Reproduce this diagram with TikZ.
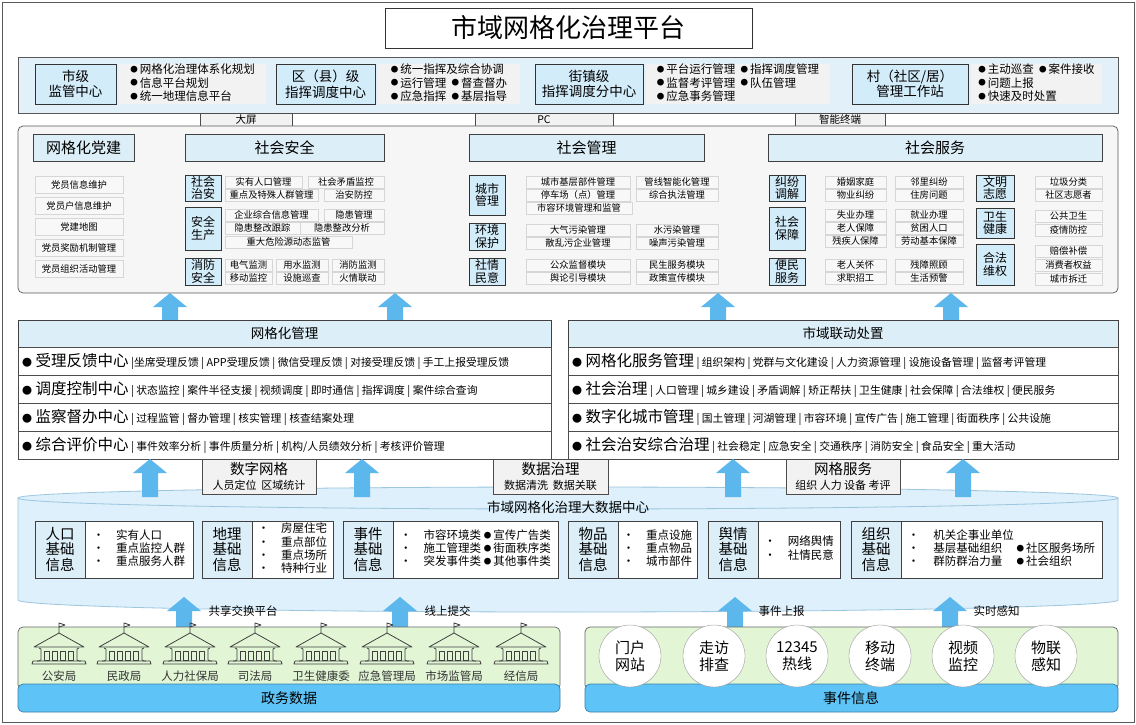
\documentclass[tikz,border=0pt]{standalone}
\usepackage{fontspec}
\setmainfont{Noto Sans CJK SC}
\definecolor{frameC}{HTML}{595959}
\definecolor{lblue}{HTML}{D3ECFA}
\definecolor{hdr}{HTML}{DCEEF7}
\definecolor{band}{HTML}{E2F1F9}
\definecolor{bulf}{HTML}{F2F2F2}
\definecolor{cellB}{HTML}{D6D6D6}
\definecolor{cellF}{HTML}{F8F8F8}
\definecolor{panF}{HTML}{F6F6F6}
\definecolor{arrC}{HTML}{5CB8EC}
\definecolor{grnF}{HTML}{E2F6D6}
\definecolor{barF}{HTML}{5EC3F6}
\definecolor{barB}{HTML}{3A80AA}
\definecolor{cylF}{HTML}{DDF0FB}
\definecolor{cylB}{HTML}{9CC5DE}
\newcounter{nc}
\newcommand\bx[6]{\stepcounter{nc}\node[#1,anchor=north west,inner sep=0pt,outer sep=0pt,minimum width={((#4)-(#2))*1pt},minimum height={((#5)-(#3))*1pt}] (b\thenc) at ({#2},{#3}) {#6};}
\newcommand\uarr[3]{\fill[arrC] ({#1-8},#2) -- ({#1-8},{#3+14}) -- ({#1-17},{#3+14}) -- (#1,#3) -- ({#1+17},{#3+14}) -- ({#1+8},{#3+14}) -- ({#1+8},#2) -- cycle;}
\newcommand\fs[1]{\fontsize{#1}{\dimexpr#1pt*115/100\relax}\selectfont}
\newcommand\fst[1]{\fontsize{#1}{\dimexpr#1pt*104/100\relax}\selectfont}
\newcommand\bu{\raisebox{0.1em}{\fontsize{7.5}{7.5}\selectfont ●}\hspace{2pt}}
\tikzset{
 lb/.style={draw=black!80,fill=lblue,line width=0.8pt,align=center,font=\fs{13.5}},
 sl/.style={draw=black!80,fill=lblue,line width=0.8pt,align=center,font=\fst{12}},
 hb/.style={draw=black!75,fill=hdr,line width=0.7pt,align=center,font=\fs{15}},
 bul/.style={fill=bulf,align=left,font=\fst{11.5}},
 cell/.style={draw=cellB,fill=cellF,line width=0.4pt,font=\fs{9.3}},
 tag/.style={draw=black!70,fill=bulf,line width=0.6pt},
 row/.style={draw=black!70,fill=white,line width=0.6pt},
 bl/.style={draw=black!75,line width=0.8pt,line join=round},
 bldg/.pic={
  \draw[bl] (0,-19) -- (0,-29) -- (6,-27) -- (0,-25);
  \draw[bl] (-25,-5) -- (0,-19) -- (25,-5) -- cycle;
  \foreach \c in {-12,-4,4,12} \draw[bl] (\c-2.4,-1) rectangle (\c+2.4,8);
  \draw[bl] (-20,-4) -- (-18,-3) -- (-18,8) -- (-20,9) -- (-22,9);
  \draw[bl] (20,-4) -- (18,-3) -- (18,8) -- (20,9) -- (22,9);
  \draw[bl] (-26,9) -- (26,9) -- (27,12) -- (-27,12) -- cycle;
 },
 circ/.style={circle,draw=black!40,fill=white,minimum size=62pt,inner sep=0pt,align=center,font=\fs{15}},
}
\begin{document}
\begin{tikzpicture}[x=1pt,y=-1pt]
\useasboundingbox (0,0) rectangle (1136,725);
\fill[white] (0,0) rectangle (1136,725);
\draw[frameC,line width=0.8pt] (2,2) rectangle (1134,722);
% title
\bx{draw=black!80,line width=0.8pt,font=\fs{26}}{385}{8}{752}{48}{市域网格化治理平台}
% top band
\bx{draw=frameC,fill=band,line width=0.6pt}{18}{57}{1118}{113}{}
\bx{lb}{35}{64}{116}{104}{市级\\监管中心}
\bx{bul}{119}{64}{266}{104}{\begin{tabular}{@{}l@{}}\bu 网格化治理体系化规划\\\bu 信息平台规划\\\bu 统一地理信息平台\end{tabular}}
\bx{lb}{276}{64}{375}{104}{区（县）级\\指挥调度中心}
\bx{bul}{378}{64}{520}{104}{\begin{tabular}{@{}l@{}}\bu 统一指挥及综合协调\\\bu 运行管理\ \ \bu 督查督办\\\bu 应急指挥\ \ \bu 基层指导\end{tabular}}
\bx{lb}{535}{64}{643}{104}{街镇级\\指挥调度分中心}
\bx{bul}{646}{64}{830}{104}{\begin{tabular}{@{}l@{\ \ }l@{}}\bu 平台运行管理&\bu 指挥调度管理\\\bu 监督考评管理&\bu 队伍管理\\\bu 应急事务管理&\end{tabular}}
\bx{lb}{852}{64}{968}{104}{村（社区/居）\\管理工作站}
\bx{bul}{971}{64}{1102}{104}{\begin{tabular}{@{}l@{}}\bu 主动巡查\ \ \bu 案件接收\\\bu 问题上报\\\bu 快速及时处置\end{tabular}}
% device labels
\bx{tag,font=\fs{10.5}}{200}{113}{292}{126}{大屏}
\bx{tag,font=\fs{10.5}}{475}{113}{613}{126}{PC}
\bx{tag,font=\fs{10.5}}{795}{113}{885}{126}{智能终端}
% middle panel
\draw[frameC,fill=panF,line width=0.7pt,rounded corners=5pt] (18,126) rectangle (1118,293);
\bx{hb}{33}{134}{134}{161}{网格化党建}
\bx{hb}{185}{134}{384}{161}{社会安全}
\bx{hb}{469}{134}{704}{161}{社会管理}
\bx{hb}{768}{134}{1102}{161}{社会服务}
\foreach \t [count=\i] in {党员信息维护,党员户信息维护,党建地图,党员奖励机制管理,党员组织活动管理}{
 \bx{cell}{35}{176+(\i-1)*21}{123}{193+(\i-1)*21}{\t}}
% social security
\bx{sl}{185}{175}{221}{201}{社会\\治安}
\bx{sl}{185}{207}{221}{250}{安全\\生产}
\bx{sl}{185}{258}{221}{285}{消防\\安全}
\bx{cell}{225}{176}{302}{188}{实有人口管理}
\bx{cell}{308}{176}{384}{188}{社会矛盾监控}
\bx{cell}{225}{189}{318}{201}{重点及特殊人群管理}
\bx{cell}{324}{189}{384}{201}{治安防控}
\bx{cell}{225}{209}{318}{221}{企业综合信息管理}
\bx{cell}{324}{209}{384}{221}{隐患管理}
\bx{cell}{225}{222}{300}{234}{隐患整改跟踪}
\bx{cell}{300}{222}{384}{234}{隐患整改分析}
\bx{cell}{225}{236}{352}{248}{重大危险源动态监管}
\bx{cell}{225}{259}{272}{271}{电气监测}
\bx{cell}{276}{259}{328}{271}{用水监测}
\bx{cell}{332}{259}{384}{271}{消防监测}
\bx{cell}{225}{272}{272}{284}{移动监控}
\bx{cell}{276}{272}{328}{284}{设施巡查}
\bx{cell}{332}{272}{384}{284}{火情联动}
% social management
\bx{sl}{469}{175}{505}{215}{城市\\管理}
\bx{sl}{469}{223}{505}{250}{环境\\保护}
\bx{sl}{469}{258}{505}{285}{社情\\民意}
\bx{cell}{526}{176}{630}{188}{城市基层部件管理}
\bx{cell}{636}{176}{718}{188}{管线智能化管理}
\bx{cell}{526}{189}{630}{201}{停车场（点）管理}
\bx{cell}{636}{189}{718}{201}{综合执法管理}
\bx{cell}{526}{202}{632}{214}{市容环境管理和监管}
\bx{cell}{526}{224}{630}{236}{大气污染管理}
\bx{cell}{636}{224}{718}{236}{水污染管理}
\bx{cell}{526}{237}{630}{249}{散乱污企业管理}
\bx{cell}{636}{237}{718}{249}{噪声污染管理}
\bx{cell}{526}{259}{630}{271}{公众监督模块}
\bx{cell}{636}{259}{718}{271}{民生服务模块}
\bx{cell}{526}{272}{630}{284}{舆论引导模块}
\bx{cell}{636}{272}{718}{284}{政策宣传模块}
% social service
\bx{sl}{769}{175}{805}{201}{纠纷\\调解}
\bx{sl}{769}{207}{805}{250}{社会\\保障}
\bx{sl}{769}{258}{805}{285}{便民\\服务}
\bx{cell}{825}{176}{886}{188}{婚姻家庭}
\bx{cell}{895}{176}{963}{188}{邻里纠纷}
\bx{cell}{825}{189}{886}{201}{物业纠纷}
\bx{cell}{895}{189}{963}{201}{住房问题}
\bx{cell}{825}{209}{886}{221}{失业办理}
\bx{cell}{895}{209}{963}{221}{就业办理}
\bx{cell}{825}{222}{886}{234}{老人保障}
\bx{cell}{895}{222}{963}{234}{贫困人口}
\bx{cell}{825}{235}{886}{247}{残疾人保障}
\bx{cell}{895}{235}{963}{247}{劳动基本保障}
\bx{cell}{825}{259}{886}{271}{老人关怀}
\bx{cell}{895}{259}{963}{271}{残障照顾}
\bx{cell}{825}{272}{886}{284}{求职招工}
\bx{cell}{895}{272}{963}{284}{生活预警}
\bx{sl}{976}{175}{1014}{201}{文明\\志愿}
\bx{sl}{976}{208}{1014}{238}{卫生\\健康}
\bx{sl}{976}{244}{1014}{285}{合法\\维权}
\bx{cell}{1035}{176}{1102}{188}{垃圾分类}
\bx{cell}{1035}{189}{1102}{201}{社区志愿者}
\bx{cell}{1035}{210}{1102}{222}{公共卫生}
\bx{cell}{1035}{224}{1102}{236}{疫情防控}
\bx{cell}{1035}{245}{1102}{257}{赔偿补偿}
\bx{cell}{1035}{259}{1102}{271}{消费者权益}
\bx{cell}{1035}{273}{1102}{285}{城市拆迁}
% arrows up to panel
\uarr{170}{320}{293}\uarr{395}{320}{293}\uarr{718}{320}{293}\uarr{951}{320}{293}
% management boxes
\bx{hb,font=\fs{13.5}}{18}{320}{551}{347}{网格化管理}
\bx{hb,font=\fs{13.5}}{568}{320}{1118}{347}{市域联动处置}
\newcommand\rw[5]{\bx{row}{#1}{#2}{#3}{#2+28}{}\node[anchor=west,inner sep=0pt] (r\thenc) at ({#1+4},{#2+14}) {{\fs{15.5}{\fontsize{10}{10}\selectfont ●} #4}{\fs{10.8} #5}};}
\rw{18}{347}{551}{受理反馈中心}{|坐席受理反馈 | APP受理反馈 | 微信受理反馈 | 对接受理反馈 | 手工上报受理反馈}
\rw{18}{375}{551}{调度控制中心}{| 状态监控 | 案件半径支援 | 视频调度 | 即时通信 | 指挥调度 | 案件综合查询}
\rw{18}{403}{551}{监察督办中心}{| 过程监管 | 督办管理 | 核实管理 | 核查结案处理}
\rw{18}{431}{551}{综合评价中心}{| 事件效率分析 | 事件质量分析 | 机构/人员绩效分析 | 考核评价管理}
\rw{568}{347}{1118}{网格化服务管理}{| 组织架构 | 党群与文化建设 | 人力资源管理 | 设施设备管理 | 监督考评管理}
\rw{568}{375}{1118}{社会治理}{| 人口管理 | 城乡建设 | 矛盾调解 | 矫正帮扶 | 卫生健康 |\ 社会保障 | 合法维权 |\ 便民服务}
\rw{568}{403}{1118}{数字化城市管理}{| 国土管理 | 河湖管理 | 市容环境 | 宣传广告 | 施工管理 | 街面秩序 | 公共设施}
\rw{568}{431}{1118}{社会治安综合治理}{| 社会稳定 | 应急安全 | 交通秩序 | 消防安全 | 食品安全 | 重大活动}
% cylinder
\draw[cylB,fill=cylF,line width=0.8pt] (18,498) -- (18,600) arc[start angle=180,end angle=0,x radius=550,y radius=12] -- (1118,498);
\draw[cylB,fill=cylF,line width=0.8pt] (568,498) ellipse[x radius=550,y radius=11];
\node[font=\fs{13.5}] (dc) at (568,507) {市域网格化治理大数据中心};
% arrows into management
\uarr{150}{497}{459}\uarr{362}{497}{459}\uarr{733}{497}{459}\uarr{963}{497}{459}
% tags
\bx{tag,align=center,font=\fst{14.5}}{202}{459}{316}{494}{数字网格\\{\fst{11}人员定位\ \ 区域统计}}
\bx{tag,align=center,font=\fst{14.5}}{493}{459}{608}{494}{数据治理\\{\fst{11}数据清洗\ \ 数据关联}}
\bx{tag,align=center,font=\fst{14.5}}{786}{459}{900}{494}{网格服务\\{\fst{11}组织\ 人力\ 设备\ 考评}}
% data boxes
\newcommand\db[4]{\bx{draw=black!75,fill=hdr,line width=0.7pt,align=center,font=\fst{14.5}}{#1}{521}{#1+50}{578}{#3}\bx{draw=black!75,fill=white,line width=0.7pt,font=\fst{11.5}}{#1+50}{521}{#2}{578}{#4}}
\db{35}{193}{人口\\基础\\信息}{\begin{tabular}{@{}l@{\hspace{12pt}}l@{}}•&实有人口\\•&重点监控人群\\•&重点服务人群\end{tabular}}
\db{202}{333}{地理\\基础\\信息}{\begin{tabular}{@{}l@{\hspace{12pt}}l@{}}•&房屋住宅\\•&重点部位\\•&重点场所\\•&特种行业\end{tabular}}
\db{343}{558}{事件\\基础\\信息}{\begin{tabular}{@{}l@{\hspace{12pt}}l@{\ }l@{}}•&市容环境类&\bu 宣传广告类\\•&施工管理类&\bu 街面秩序类\\•&突发事件类&\bu 其他事件类\end{tabular}}
\db{568}{697}{物品\\基础\\信息}{\begin{tabular}{@{}l@{\hspace{12pt}}l@{}}•&重点设施\\•&重点物品\\•&城市部件\end{tabular}}
\db{708}{840}{舆情\\基础\\信息}{\begin{tabular}{@{}l@{\hspace{12pt}}l@{}}•&网络舆情\\•&社情民意\end{tabular}}
\db{851}{1102}{组织\\基础\\信息}{\begin{tabular}{@{}l@{\hspace{14pt}}l@{\ }l@{}}•&机关企事业单位&\\•&基层基础组织&\bu 社区服务场所\\•&群防群治力量&\bu 社会组织\end{tabular}}
% bottom arrows
\uarr{184}{627}{597}\uarr{400}{627}{597}\uarr{735}{627}{597}\uarr{950}{627}{597}
\node[anchor=west,font=\fs{11.5}] (l1) at (205,611) {共享交换平台};
\node[anchor=west,font=\fs{11.5}] (l2) at (421,611) {线上提交};
\node[anchor=west,font=\fs{11.5}] (l3) at (755,611) {事件上报};
\node[anchor=west,font=\fs{11.5}] (l4) at (970,611) {实时感知};
% bottom panels
\draw[black!60,fill=grnF,line width=0.7pt,rounded corners=5pt] (18,627) rectangle (560,690);
\draw[black!60,fill=grnF,line width=0.7pt,rounded corners=5pt] (585,627) rectangle (1118,690);
\draw[barB,fill=barF,line width=0.7pt,rounded corners=5pt] (18,684) rectangle (560,712);
\draw[barB,fill=barF,line width=0.7pt,rounded corners=5pt] (585,684) rectangle (1118,712);
\node[font=\fs{14}] (gw) at (289,698) {政务数据};
\node[font=\fs{14}] (sj) at (851,698) {事件信息};
\foreach \x/\t [count=\i] in {59/公安局,124/民政局,190/人力社保局,255/司法局,321/卫生健康委,387/应急管理局,454/市场监管局,521/经信局}{
 \pic at (\x,652) {bldg};
 \node[font=\fs{11.5},text=black!80,inner sep=0pt] (g\i) at (\x,676) {\t};}
\foreach \x/\t [count=\i] in {630/门户\\网站,714/走访\\排查,797/12345\\热线,880/移动\\终端,963/视频\\监控,1046/物联\\感知}{
 \node[circ] (c\i) at (\x,656) {\t};}
\end{tikzpicture}
\end{document}
